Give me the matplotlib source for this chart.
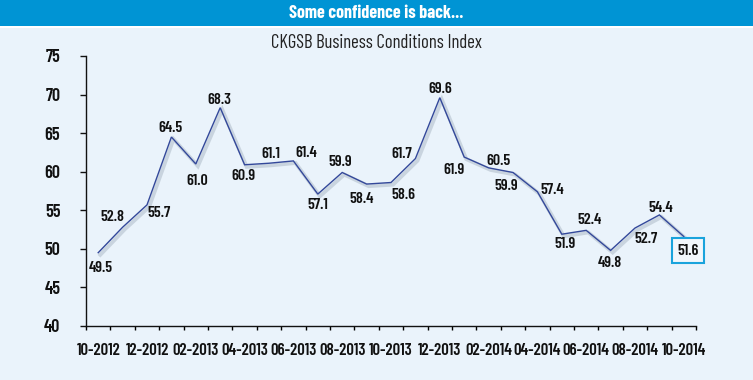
import matplotlib
matplotlib.use("Agg")
import matplotlib.pyplot as plt
import matplotlib.patheffects as pe
from matplotlib.patches import Rectangle
import numpy as np

FONTS = ['Barlow Condensed', 'Roboto Condensed', 'IBM Plex Sans Condensed', 'DejaVu Sans']
plt.rcParams['font.family'] = FONTS

# ---- data ----
months = ['10-2012', '11-2012', '12-2012', '01-2013', '02-2013', '03-2013', '04-2013',
          '05-2013', '06-2013', '07-2013', '08-2013', '09-2013', '10-2013', '11-2013',
          '12-2013', '01-2014', '02-2014', '03-2014', '04-2014', '05-2014', '06-2014',
          '07-2014', '08-2014', '09-2014', '10-2014']
values = [49.5, 52.8, 55.7, 64.5, 61.0, 68.3, 60.9, 61.1, 61.4, 57.1, 59.9, 58.4, 58.6,
          61.7, 69.6, 61.9, 60.5, 59.9, 57.4, 51.9, 52.4, 49.8, 52.7, 54.4, 51.6]
yticks = [40, 45, 50, 55, 60, 65, 70, 75]
title_header = 'Some confidence is back...'
chart_title = 'CKGSB Business Conditions Index'

# label offsets in pixels (dx, dy up) relative to each point
label_offsets = [(3, -15), (-10, 10), (12, -8), (-1, 9), (1, -17), (-1, 8), (-1, -11),
                 (2, 9), (13, 8), (0, -11), (-2, 10), (-5, -15), (12, -12), (-14, 5),
                 (0, 9), (-10, -13), (10, 7), (-7, -14), (15, 2), (3, -10), (3, 10),
                 (-1, -13), (11, -11), (1, 7), (4, -14)]

W, H = 753, 380
fig = plt.figure(figsize=(W / 100, H / 100), dpi=100)
fig.patch.set_facecolor('#EAF3FB')

# header bar
fig.add_artist(Rectangle((0, 1 - 26 / H), 1, 26 / H, transform=fig.transFigure,
                         facecolor='#0094D4', edgecolor='none', zorder=0))
fig.add_artist(Rectangle((0, 1 - 28 / H), 1, 2 / H, transform=fig.transFigure,
                         facecolor='white', edgecolor='none', zorder=0))
fig.text(0.5, 1 - 13 / H, title_header, ha='center', va='center', color='white',
         fontweight='bold', fontsize=13)
fig.text(0.5, 1 - 43 / H, chart_title, ha='center', va='center', color='#222222',
         fontsize=13.5)

ax = fig.add_axes([86 / W, 54 / H, 610 / W, 270 / H])
ax.set_facecolor('none')

x = np.arange(len(values))
ax.plot(x, values, color='#33489A', lw=1.0, solid_joinstyle='miter',
        path_effects=[pe.SimpleLineShadow(offset=(1.5, -1.5), shadow_color='#7f8fa0',
                                          alpha=0.3, linewidth=2.8),
                      pe.Normal()])

for i, (v, (dx, dy)) in enumerate(zip(values, label_offsets)):
    kw = {}
    if i == len(values) - 1:
        kw['bbox'] = dict(boxstyle='square,pad=0.32', facecolor='#F2F7FC',
                          edgecolor='#1AA3DC', linewidth=1.5)
    ax.annotate(f'{v:.1f}', (i, v), xytext=(dx, dy), textcoords='offset pixels',
                ha='center', va='center', fontsize=11.5, fontweight='semibold',
                color='#111111', **kw)

ax.set_xlim(-0.5, len(values) - 0.5)
ax.set_ylim(40, 75)
ax.set_yticks(yticks)
ax.set_yticklabels([str(t) for t in yticks])

ax.set_xticks(np.arange(-0.5, len(values), 1))
ax.set_xticklabels([])
ax.set_xticks(x[::2], minor=True)
ax.set_xticklabels(months[::2], minor=True)

ax.tick_params(axis='y', direction='out', length=4.5, width=1, pad=14,
               labelsize=13, colors='#111111')
ax.tick_params(axis='x', which='major', direction='out', length=3, width=1)
ax.tick_params(axis='x', which='minor', length=0, pad=12, labelsize=12,
               labelcolor='#111111')
for lab in ax.get_yticklabels() + ax.get_xticklabels(minor=True):
    lab.set_fontweight('semibold')

for s in ['top', 'right']:
    ax.spines[s].set_visible(False)
for s in ['left', 'bottom']:
    ax.spines[s].set_linewidth(1)
    ax.spines[s].set_color('#111111')

fig.savefig('out.png', dpi=100, facecolor=fig.get_facecolor())
